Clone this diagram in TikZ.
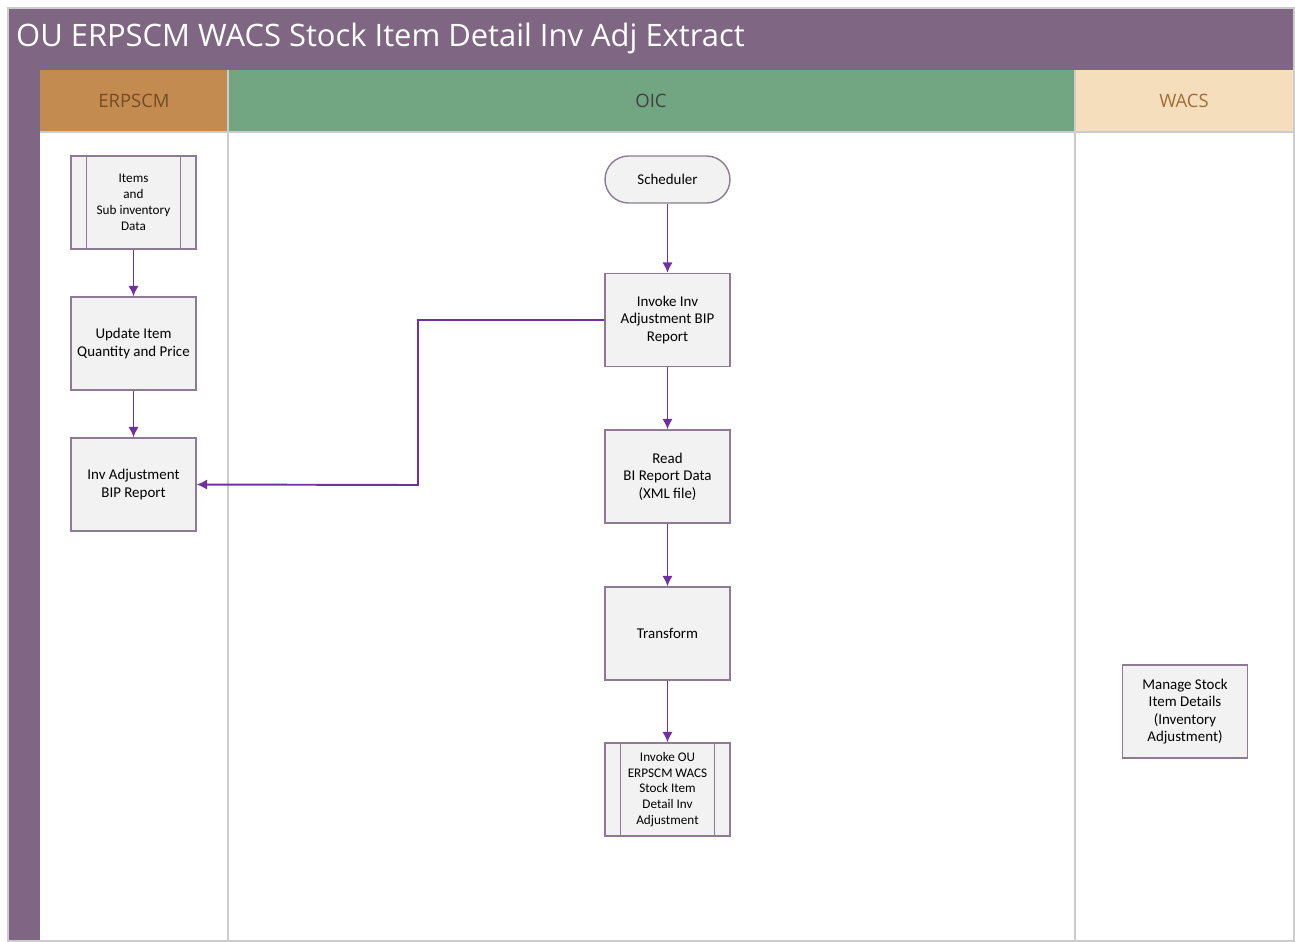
\documentclass[tikz,border=0pt]{standalone}
\usepackage{fontspec}
\setmainfont{Carlito}
\newfontfamily\headfont{Open Sans}
\usepackage{tikz}
\usetikzlibrary{arrows.meta}
\definecolor{poolpurple}{HTML}{7F6784}
\definecolor{erpcol}{HTML}{C48B50}
\definecolor{oiccol}{HTML}{72A683}
\definecolor{wacscol}{HTML}{F5DEBB}
\definecolor{boxfill}{HTML}{F2F2F2}
\definecolor{boxline}{HTML}{8E7A93}
\definecolor{flowcol}{HTML}{7030A0}

\begin{document}
\begin{tikzpicture}[
      x=0.02cm, y=-0.02cm,
      task/.style={draw=boxline, fill=boxfill, line width=0.8pt, minimum width=2.5cm, minimum height=1.86cm, align=center, font=\fontsize{8.5}{10}\selectfont, inner sep=1pt},  % plain activity box
      subproc/.style={task, font=\fontsize{7.5}{9}\selectfont},  % boxes with side bars
      terminal/.style={task, rounded corners=0.47cm, minimum height=0.94cm},
      flow/.style={draw=flowcol, line width=1.1pt, -{Latex[length=6pt,width=6pt]}},
      lanehead/.style={font=\headfont\fontsize{10.5}{12}\selectfont}
    ]
    \useasboundingbox (0,0) rectangle (1295,941);
    % pool and lanes
    \fill[white] (0,0) rectangle (1295,941);
    \fill[poolpurple] (8,8) rectangle (1294,70);
    \fill[poolpurple] (8,70) rectangle (40,941);
    \fill[erpcol] (40,70) rectangle (228,132);
    \fill[oiccol] (228,70) rectangle (1075,132);
    \fill[wacscol] (1075,70) rectangle (1294,132);
    \draw[gray!40, line width=0.6pt] (8,8) rectangle (1294,941);
    \draw[gray!40, line width=0.6pt] (228,70) -- (228,941) (1075,70) -- (1075,941) (40,132) -- (1294,132);
    \node[anchor=west, text=white, font=\headfont\fontsize{17.6}{20}\selectfont] (title) at (10,38) {OU ERPSCM WACS Stock Item Detail Inv Adj Extract};
    \node[lanehead, text=brown!60!black] (erp) at (134,101) {ERPSCM};
    \node[lanehead, text=black!75] (oic) at (651,101) {OIC};
    \node[lanehead, text=brown!85!black] (wacs) at (1184,101) {WACS};

    % ERPSCM lane
    \node[subproc] (items) at (133.5,202.5) {Items\\and\\Sub inventory\\Data};
    \draw[boxline, line width=0.8pt] ([xshift=0.32cm]items.north west) -- ([xshift=0.32cm]items.south west)
         ([xshift=-0.32cm]items.north east) -- ([xshift=-0.32cm]items.south east);
    \node[task] (update) at (133.5,343.5) {Update Item\\Quantity and Price};
    \node[task] (invbip) at (133.5,484.5) {Inv Adjustment\\BIP Report};

    % OIC lane
    \node[terminal] (sched) at (667.5,179.5) {Scheduler};
    \node[task] (invoke) at (667.5,320) {Invoke Inv\\Adjustment BIP\\Report};
    \node[task] (read) at (667.5,476.5) {Read\\BI Report Data\\(XML file)};
    \node[task] (transform) at (667.5,633.5) {Transform};
    \node[subproc] (invokeou) at (667.5,789.5) {Invoke OU\\ERPSCM WACS\\Stock Item\\Detail Inv\\Adjustment};
    \draw[boxline, line width=0.8pt] ([xshift=0.32cm]invokeou.north west) -- ([xshift=0.32cm]invokeou.south west)
         ([xshift=-0.32cm]invokeou.north east) -- ([xshift=-0.32cm]invokeou.south east);

    % WACS lane
    \node[task] (manage) at (1185,711.5) {Manage Stock\\Item Details\\(Inventory\\Adjustment)};

    % connectors
    \coordinate (bend) at (418,485);
    \draw[flow] (items) -- (update);
    \draw[flow] (update) -- (invbip);
    \draw[flow] (sched) -- (invoke);
    \draw[flow] (invoke) -- (read);
    \draw[flow] (read) -- (transform);
    \draw[flow] (transform) -- (invokeou);
    \draw[flow] (invoke.west) -| (bend) -- (invbip.east);
\end{tikzpicture}
\end{document}
